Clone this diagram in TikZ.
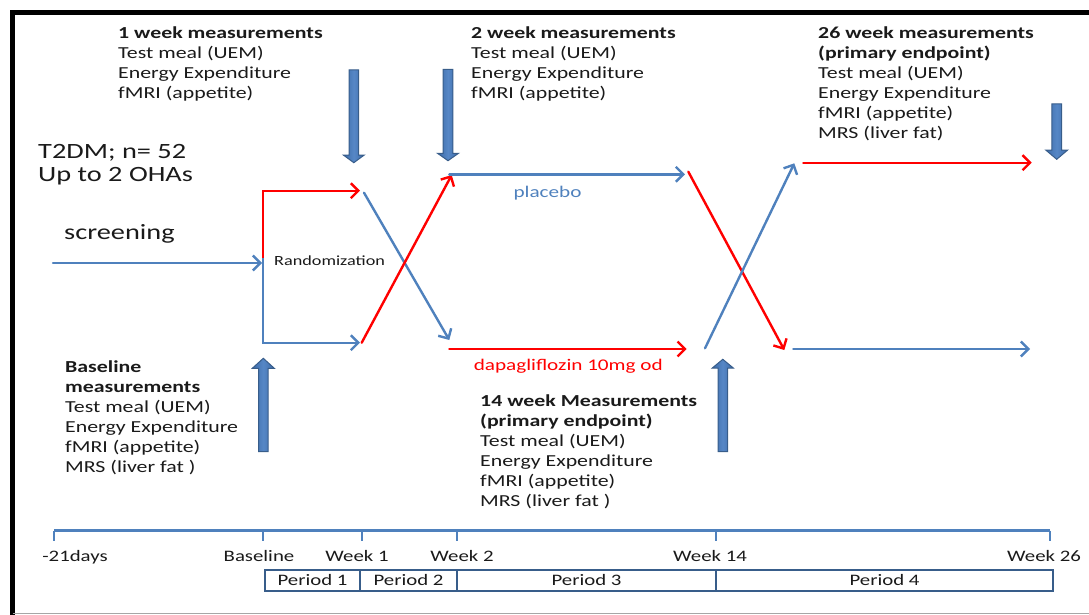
\documentclass[tikz,border=0pt]{standalone}
\usepackage{fontspec}
\setmainfont{Carlito}[FakeStretch=1.3]
\usetikzlibrary{arrows.meta}
\definecolor{lblue}{HTML}{4F81BD}
\definecolor{bfill}{HTML}{4A7AB8}
\definecolor{bedge}{HTML}{3D6BA8}
\definecolor{bmid}{HTML}{5687C6}
\definecolor{bdraw}{HTML}{385D8A}
\definecolor{lred}{HTML}{FF0000}
\definecolor{txt}{HTML}{1A1A1A}
\newcommand{\blk}[1]{\begin{tabular}[t]{@{}l@{}}#1\end{tabular}}
\newcommand{\blkarrow}[6]{% name, cx, start y, head base y, tip y, head half width
  \path[blockarrow] ({#2-4.8},#3) -- ({#2+4.8},#3) -- ({#2+4.8},#4) -- ({#2+#6},#4)
     -- (#2,#5) coordinate (#1) -- ({#2-#6},#4) -- ({#2-4.8},#4) -- cycle;}
\tikzset{
  conn/.style={line width=2.4pt, line cap=round, -{Straight Barb[length=7.5pt,width=15pt]}},
  bconn/.style={conn, draw=lblue},
  rconn/.style={conn, draw=lred},
  blockarrow/.style={left color=bedge, right color=bedge, middle color=bmid, draw=bdraw, line width=1pt, line join=miter},
  meas/.style={anchor=base west, inner sep=0pt, font=\fontsize{16.8}{20}\selectfont, text=txt},
  big/.style={anchor=base west, inner sep=0pt, font=\fontsize{21.8}{23}\selectfont, text=txt},
  tlab/.style={anchor=base, inner sep=0pt, font=\fontsize{16}{19}\selectfont, text=txt},
  tline/.style={draw=lblue, line width=2.2pt},
  tick/.style={draw=lblue, line width=1.2pt},
  pbox/.style={draw=bdraw, line width=2pt},
}
\begin{document}
\begin{tikzpicture}[x=1pt,y=-1pt]
\useasboundingbox (0,0) rectangle (1089,615);
% frame
\draw[line width=5pt, black] (12.5,615) -- (12.5,12.5) -- (1089,12.5);
\draw[gray!70, line width=1.5pt] (12.5,613.5) -- (1089,613.5);

% text blocks
\node[meas] (wk1) at (118,39) {\blk{\textbf{1 week measurements}\\Test meal (UEM)\\Energy Expenditure\\fMRI (appetite)}};
\node[meas] (wk2) at (471,39) {\blk{\textbf{2 week measurements}\\Test meal (UEM)\\Energy Expenditure\\fMRI (appetite)}};
\node[meas] (wk26) at (818,39) {\blk{\textbf{26 week measurements}\\\textbf{(primary endpoint)}\\Test meal (UEM)\\Energy Expenditure\\fMRI (appetite)\\MRS (liver fat)}};
\node[big] (t2dm) at (38,158) {\blk{T2DM; n= 52\\Up to 2 OHAs}};
\node[big] (scr) at (64,239) {screening};
\node[anchor=base west, inner sep=0pt, font=\fontsize{14}{16}\selectfont, text=txt] (rand) at (274,265) {Randomization};
\node[meas] (base) at (65,372) {\blk{\textbf{Baseline}\\\textbf{measurements}\\Test meal (UEM)\\Energy Expenditure\\fMRI (appetite)\\MRS (liver fat )}};
\node[meas] (wk14) at (480,406) {\blk{\textbf{14 week Measurements}\\\textbf{(primary endpoint)}\\Test meal (UEM)\\Energy Expenditure\\fMRI (appetite)\\MRS (liver fat )}};
\node[anchor=base, inner sep=0pt, font=\fontsize{16.3}{19}\selectfont, text=lblue] (plac) at (547.5,197) {placebo};
\node[anchor=base, inner sep=0pt, font=\fontsize{16.3}{19}\selectfont, text=lred] (dapa) at (568.3,370) {dapagliflozin 10mg od};

% block arrows
\blkarrow{d1}{353.8}{70}{155}{162.7}{10.5}
\blkarrow{d2}{448}{69.3}{153.3}{160.7}{10.5}
\blkarrow{d3}{1056.7}{104}{150}{159.3}{11}
\blkarrow{u1}{263.3}{451.7}{368.3}{358.3}{11}
\blkarrow{u2}{722.8}{451.7}{368}{359.3}{10.5}

% flow coordinates
\coordinate (scrS) at (53,263);
\coordinate (scrE) at (262,263);
\coordinate (J) at (263,258);
\coordinate (rA1) at (360,190.7);
\coordinate (bA1) at (360,342.7);
\coordinate (bX1s) at (364,192.7);
\coordinate (bX1e) at (449.3,340);
\coordinate (rX1s) at (361.7,342.7);
\coordinate (rX1e) at (451.7,175);
\coordinate (pS) at (449.3,174.3);
\coordinate (pE) at (685,174.3);
\coordinate (dS) at (449.3,349);
\coordinate (dE) at (686.7,349);
\coordinate (rX2s) at (688.3,171.7);
\coordinate (rX2e) at (784.3,350);
\coordinate (bX2s) at (705,348.3);
\coordinate (bX2e) at (794.3,163.3);
\coordinate (r5s) at (803.3,162.7);
\coordinate (r5e) at (1031.7,162.7);
\coordinate (b5s) at (793.3,349);
\coordinate (b5e) at (1030,349);

\draw[bconn] (scrS) -- (scrE);
\draw[rconn, line cap=butt] (J) |- (rA1);
\draw[bconn, line cap=butt] (J) |- (bA1);
\draw[bconn] (bX1s) -- (bX1e);
\draw[rconn] (rX1s) -- (rX1e);
\draw[bconn] (pS) -- (pE);
\draw[rconn] (dS) -- (dE);
\draw[rconn] (rX2s) -- (rX2e);
\draw[bconn] (bX2s) -- (bX2e);
\draw[rconn] (r5s) -- (r5e);
\draw[bconn] (b5s) -- (b5e);

% timeline
\coordinate (t0) at (54,530.5);
\coordinate (t1) at (263,530.5);
\coordinate (t2) at (362,530.5);
\coordinate (t3) at (457,530.5);
\coordinate (t4) at (716,530.5);
\coordinate (t5) at (1050,530.5);
\draw[tline] (t0) -- (t5);
\foreach \t in {t0,t1,t2,t3,t4,t5} \draw[tick] (\t) -- ++(0,10.5);
\node[tlab] (l0) at (75,561) {-21days};
\node[tlab] (l1) at (259,561) {Baseline};
\node[tlab] (l2) at (357,561) {Week 1};
\node[tlab] (l3) at (462,561) {Week 2};
\node[tlab] (l4) at (710,561) {Week 14};
\node[tlab] (l5) at (1044,561) {Week 26};

% periods
\coordinate (pb0) at (265,569.5);
\coordinate (pb1) at (1053,591);
\draw[pbox] (pb0) rectangle (pb1);
\foreach \x in {360,457,716} \draw[pbox] (\x,569.5) -- (\x,591);
\node[tlab] (p1) at (312.5,585) {Period 1};
\node[tlab] (p2) at (408.5,585) {Period 2};
\node[tlab] (p3) at (586.5,585) {Period 3};
\node[tlab] (p4) at (884.5,585) {Period 4};
\end{tikzpicture}
\end{document}
